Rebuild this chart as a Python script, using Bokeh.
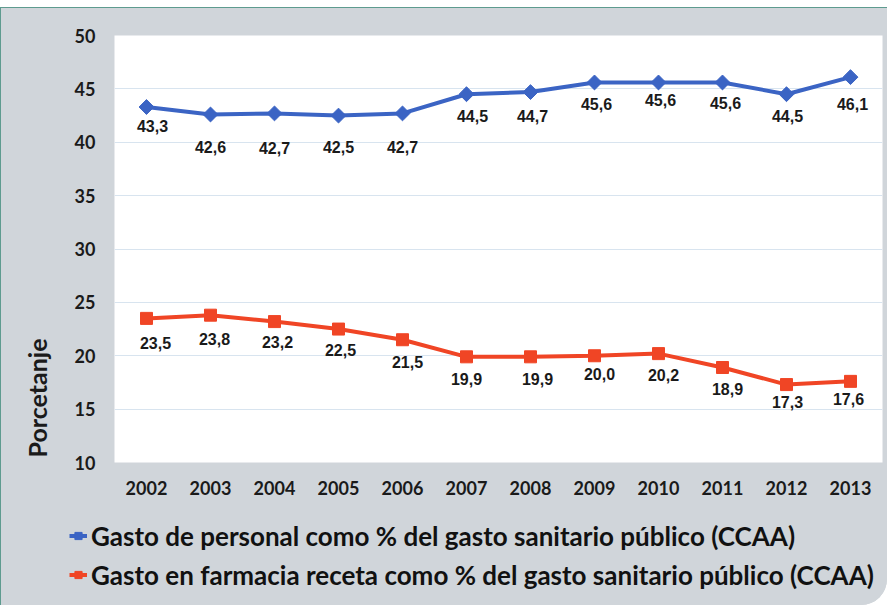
import numpy as np
from bokeh.plotting import figure
from bokeh.layouts import column
from bokeh.models import FixedTicker, Legend, LegendItem, Title, ColumnDataSource
from bokeh.core.properties import value
from bokeh.embed import file_html
from bokeh.resources import INLINE

# ---- data ----
years = [2002, 2003, 2004, 2005, 2006, 2007, 2008, 2009, 2010, 2011, 2012, 2013]
year_labels = ["2002", "2003", "2004", "2005", "2006", "2007", "2008", "2009", "2010", "2011", "2012", "2013"]
personal = [43.3, 42.6, 42.7, 42.5, 42.7, 44.5, 44.7, 45.6, 45.6, 45.6, 44.5, 46.1]
farmacia = [23.5, 23.8, 23.2, 22.5, 21.5, 19.9, 19.9, 20.0, 20.2, 18.9, 17.3, 17.6]
y_ticks = [10, 15, 20, 25, 30, 35, 40, 45, 50]
name_personal = "Gasto de personal como % del gasto sanitario público (CCAA)"
name_farmacia = "Gasto en farmacia receta como % del gasto sanitario público (CCAA)"
axis_title = "Porcetanje"

# ---- label placement (pixel offsets, style only) ----
blue_dy = [19, 33, 35, 31, 34, 22, 24, 22, 18, 21, 22, 27]
blue_dx = [6, 0, 0, 0, 0, 6, 2, 2, 2, 3, 1, 2]
red_dy = [25, 24, 20, 21, 22, 22, 22, 18, 21, 22, 17, 18]
red_dx = [9, 4, 3, 2, 5, 0, 7, 5, 5, 5, 1, -2]

BLUE = "#3b64c4"
RED = "#f04525"
BG = "#d0d5da"
EDGE = "#5e9b8f"

def fmt(v):
    return f"{v:.1f}".replace(".", ",")

p = figure(width=886, height=502, output_backend="svg", toolbar_location=None,
           x_range=(2001.5, 2013.5), y_range=(10, 50),
           min_border_left=113, min_border_right=5, min_border_top=27, min_border_bottom=48)
p.frame_align = False
p.border_fill_color = BG
p.background_fill_color = "white"
p.outline_line_color = None

p.xgrid.grid_line_color = None
p.ygrid.grid_line_color = "#d8e4ef"
p.ygrid.grid_line_width = 1

p.yaxis.ticker = FixedTicker(ticks=y_ticks)
p.xaxis.ticker = FixedTicker(ticks=years)
p.xaxis.major_label_overrides = {y: l for y, l in zip(years, year_labels)}
for ax in (p.xaxis, p.yaxis):
    ax.axis_line_color = None
    ax.major_tick_line_color = None
    ax.minor_tick_line_color = None
    ax.major_tick_out = 0
    ax.major_tick_in = 0
    ax.minor_tick_out = 0
    ax.major_label_text_font = "Lato"
    ax.major_label_text_font_style = "bold"
    ax.major_label_text_font_size = "18px"
    ax.major_label_text_color = "#1a1a1a"
p.yaxis.major_label_standoff = 19
p.xaxis.major_label_standoff = 18

p.add_layout(Title(text=axis_title, align="left", offset=5, standoff=36,
                   vertical_align="top",
                   text_font="Lato", text_font_style="bold", text_font_size="25px",
                   text_color="#1a1a1a"), "left")

src_b = ColumnDataSource(dict(x=years, y=personal, t=[fmt(v) for v in personal], dx=blue_dx, dy=blue_dy))
src_r = ColumnDataSource(dict(x=years, y=farmacia, t=[fmt(v) for v in farmacia], dx=red_dx, dy=red_dy))

p.line("x", "y", source=src_b, line_color=BLUE, line_width=4)
p.scatter("x", "y", source=src_b, marker="square", angle=np.pi / 4, size=10.5,
          fill_color=BLUE, line_color=BLUE)
p.line("x", "y", source=src_r, line_color=RED, line_width=4)
p.scatter("x", "y", source=src_r, marker="square", size=12, fill_color=RED, line_color=RED)

for src in (src_b, src_r):
    p.text("x", "y", text="t", source=src, x_offset="dx", y_offset="dy",
           text_align="center", text_baseline="middle",
           text_font=value("Liberation Sans"), text_font_style="bold",
           text_font_size="16px", text_color="#1a1a1a")

# ---- legend strip (second figure sharing the grey background) ----
q = figure(width=886, height=95, output_backend="svg", toolbar_location=None,
           x_range=(0, 1), y_range=(0, 1), x_axis_location=None, y_axis_location=None,
           min_border_left=0, min_border_right=0, min_border_top=0, min_border_bottom=0)
q.frame_align = False
q.grid.visible = False
q.outline_line_color = None
q.background_fill_color = BG
q.border_fill_color = BG
offscreen = ColumnDataSource(dict(x=[-10], y=[-10]))
qlb = q.line("x", "y", source=offscreen, line_color=BLUE, line_width=4)
qmb = q.scatter("x", "y", source=offscreen, marker="square", angle=np.pi / 4, size=12,
                fill_color=BLUE, line_color=BLUE)
qlr = q.line("x", "y", source=offscreen, line_color=RED, line_width=4)
qmr = q.scatter("x", "y", source=offscreen, marker="square", size=12, fill_color=RED, line_color=RED)

legend = Legend(items=[LegendItem(label=name_personal, renderers=[qlb, qmb]),
                       LegendItem(label=name_farmacia, renderers=[qlr, qmr])],
                location=(68, 14), orientation="vertical",
                glyph_width=18, glyph_height=33, label_height=33, spacing=6,
                label_standoff=4, padding=0, margin=0,
                border_line_color=None, background_fill_alpha=0,
                label_text_font="Lato", label_text_font_style="bold",
                label_text_font_size="26px", label_text_color="#111111")
q.add_layout(legend, "center")

layout = column(p, q, spacing=0,
                styles={"background-color": BG,
                        "margin-top": "7px",
                        "border-top": f"1px solid {EDGE}",
                        "border-left": f"1px solid {EDGE}",
                        "border-bottom-right-radius": "26px",
                        "overflow": "hidden"})

open("out.html", "w").write(file_html(layout, INLINE))
